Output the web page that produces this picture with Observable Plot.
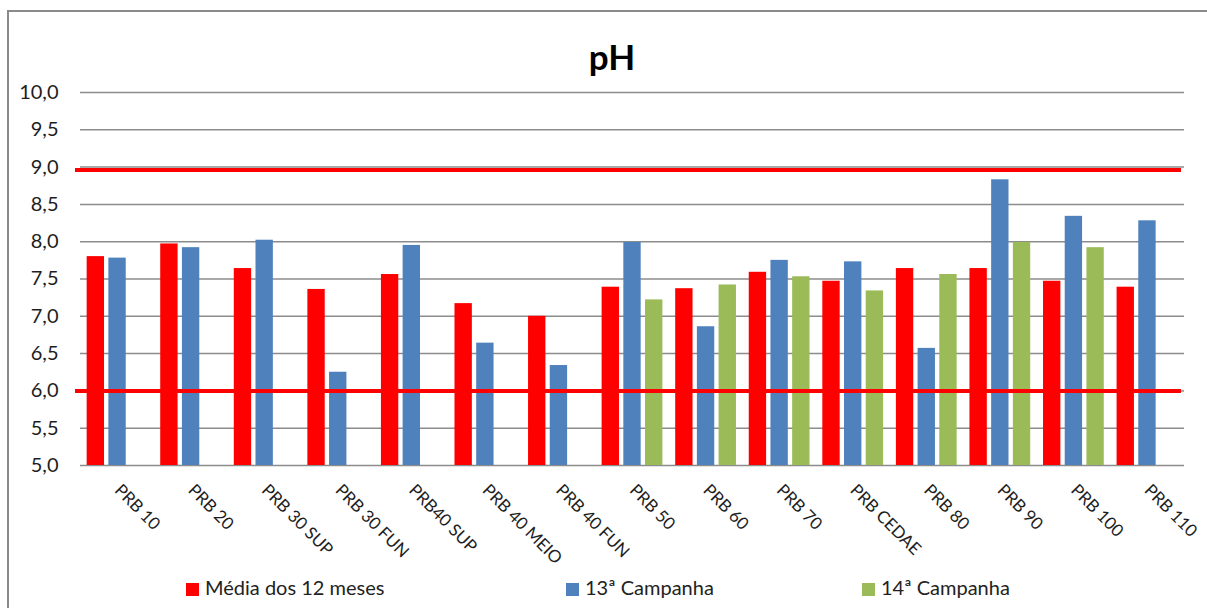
<!DOCTYPE html>
<html>
<head>
<meta charset="utf-8">
<script src="https://cdn.jsdelivr.net/npm/d3@7"></script>
<script src="https://cdn.jsdelivr.net/npm/@observablehq/plot@0.6"></script>
<style>
  body { margin: 0; background: #fff; font-family: Lato, "Open Sans", sans-serif; color: #222; }
  #frame { position: absolute; left: 7px; top: 10px; width: 1300px; height: 700px; border-left: 2px solid #8a8a8a; border-top: 2px solid #8a8a8a; }
  #title { position: absolute; left: 0; top: 36px; width: 1224px; text-align: center; font-size: 35px; font-weight: bold; color: #000; line-height: 40px; }
  .layer { position: absolute; left: 0; top: 72px; }
  .leg { position: absolute; top: 574px; font-size: 20px; line-height: 26px; color: #222; white-space: nowrap; }
  .sw { display: inline-block; width: 13px; height: 13px; margin-right: 6px; vertical-align: -1px; }
</style>
</head>
<body>
<div id="frame"></div>
<div id="title">pH</div>
<div id="back" class="layer"></div>
<div id="bars" class="layer"></div>
<div id="front" class="layer"></div>
<div id="legend"></div>
<script>
const categories = ["PRB 10","PRB 20","PRB 30 SUP","PRB 30 FUN","PRB40 SUP","PRB 40 MEIO","PRB 40 FUN","PRB 50","PRB 60","PRB 70","PRB CEDAE","PRB 80","PRB 90","PRB 100","PRB 110"];
const seriesNames = ["Média dos 12 meses", "13ª Campanha", "14ª Campanha"];
const seriesColors = ["#ff0000", "#4f81bd", "#9bbb59"];
const media12 = [7.80, 7.97, 7.64, 7.36, 7.56, 7.17, 7.00, 7.39, 7.37, 7.59, 7.47, 7.64, 7.64, 7.47, 7.39];
const campanha13 = [7.78, 7.92, 8.02, 6.25, 7.95, 6.64, 6.34, 7.99, 6.86, 7.75, 7.73, 6.57, 8.83, 8.34, 8.28];
const campanha14 = [null, null, null, null, null, null, null, 7.22, 7.42, 7.53, 7.34, 7.56, 7.99, 7.92, null];
const yTicks = [5.0, 5.5, 6.0, 6.5, 7.0, 7.5, 8.0, 8.5, 9.0, 9.5, 10.0];
const limits = [6.0, 8.96];

const allSeries = [media12, campanha13, campanha14];
const rows = [];
categories.forEach((c, i) => {
  allSeries.forEach((vals, s) => {
    if (vals[i] != null) rows.push({cat: c, series: seriesNames[s], value: vals[i]});
  });
});

const yMin = yTicks[0];
const fmt = v => d3.format(".1f")(v).replace(".", ",");
const yDomain = [yTicks[0], yTicks[yTicks.length - 1]];

const common = {
  width: 1207,
  height: 500,
  marginLeft: 80,
  marginRight: 23,
  marginTop: 20,
  marginBottom: 107,
  style: {fontFamily: "Lato, 'Open Sans', sans-serif", color: "#1e1e1e", background: "transparent", overflow: "visible"}
};

// background: grid + y axis
const back = Plot.plot({
  ...common,
  y: {domain: yDomain},
  marks: [
    Plot.ruleY(yTicks, {stroke: "#8c8c8c", strokeWidth: 1.5}),
    Plot.axisY({ticks: yTicks, tickFormat: fmt, tickSize: 0, tickPadding: 22, fontSize: 20, label: null})
  ]
});

// bars + category axis
const bars = Plot.plot({
  ...common,
  y: {domain: yDomain, axis: null},
  fx: {domain: categories, paddingInner: 0.115, paddingOuter: 0.061, round: false},
  x: {domain: seriesNames, paddingInner: 0.2, paddingOuter: 0.1, round: false, axis: null},
  color: {domain: seriesNames, range: seriesColors},
  marks: [
    Plot.barY(rows, {fx: "cat", x: "series", y1: () => yMin, y2: "value", fill: "series"}),
    Plot.axisFx({anchor: "bottom", tickRotate: 45, tickSize: 0, tickPadding: 22, fontSize: 17, label: null})
  ]
});

// front: limit lines
const front = Plot.plot({
  ...common,
  y: {domain: yDomain, axis: null},
  marks: [
    Plot.ruleY(limits, {stroke: "#ff0000", strokeWidth: 4, insetLeft: -5, insetRight: 3})
  ]
});

document.getElementById("back").appendChild(back);
document.getElementById("bars").appendChild(bars);
document.getElementById("front").appendChild(front);

const legendPos = [186, 566, 862];
const legend = document.getElementById("legend");
seriesNames.forEach((name, i) => {
  const item = document.createElement("div");
  item.className = "leg";
  item.style.left = legendPos[i] + "px";
  const sw = document.createElement("span");
  sw.className = "sw";
  sw.style.background = seriesColors[i];
  item.appendChild(sw);
  item.appendChild(document.createTextNode(name));
  legend.appendChild(item);
});
</script>
</body>
</html>
